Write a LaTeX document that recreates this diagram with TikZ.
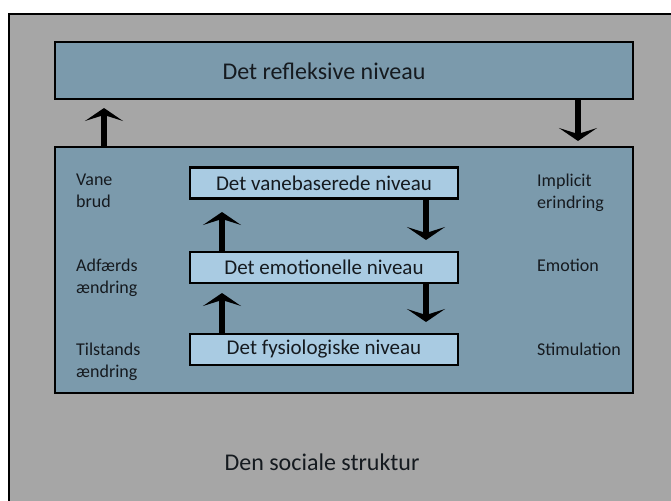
\documentclass[tikz,border=0pt]{standalone}
\usepackage{fontspec}
\setmainfont{Carlito}
\usetikzlibrary{arrows.meta}
\definecolor{bggray}{HTML}{A6A6A6}
\definecolor{boxblue}{HTML}{7B9AAC}
\definecolor{innerblue}{HTML}{A9CBE2}
\definecolor{textdark}{HTML}{151A1F}
\tikzset{
  levelbox/.style={draw=black, line width=2.5pt, fill=boxblue, inner sep=0pt},
  innerbox/.style={draw=black, line width=2.5pt, fill=innerblue, inner sep=0pt, minimum width=268pt, minimum height=31pt, text=textdark, font=\fontsize{21}{24}\selectfont},
  sidelabel/.style={anchor=base west, align=left, inner sep=0pt, text=textdark, font=\fontsize{18}{21.5}\selectfont},
  bigtext/.style={anchor=base, inner sep=0pt, text=textdark, font=\fontsize{24}{28}\selectfont},
  flow/.style={line width=5.5pt, -{Stealth[width=38pt,length=13pt,inset=6pt]}},
}
\begin{document}
\begin{tikzpicture}[x=1pt,y=-1pt]
\useasboundingbox (0,0) rectangle (671,500);
\fill[white] (0,0) rectangle (671,500);
\clip (0,0) rectangle (671,500);
\draw[fill=bggray, line width=2.5pt] (9,14) rectangle (690,520);
\node[levelbox, minimum width=578pt, minimum height=57pt] (refl) at (344,70.5) {};
\node[bigtext] (refltext) at (324,80) {Det refleksive niveau};
\node[levelbox, minimum width=578pt, minimum height=246pt] (main) at (344,270) {};
\node[innerbox] (vane) at (324,183) {Det vanebaserede niveau};
\node[innerbox] (emo) at (324,267.5) {Det emotionelle niveau};
\node[innerbox] (fys) at (324,349.5) {Det fysiologiske niveau};
% arrows between reflective level and main box
\coordinate (upA) at (104,108);
\coordinate (dnA) at (578,141);
\draw[flow] (main.north -| upA) -- (upA);
\draw[flow] (refl.south -| dnA) -- (dnA);
% inner arrows
\coordinate (u1) at (222,212);
\coordinate (u2) at (222,293);
\coordinate (d1) at (426,240);
\coordinate (d2) at (426,322);
\draw[flow] (emo.north -| u1) -- (u1);
\draw[flow] (fys.north -| u2) -- (u2);
\draw[flow] (vane.south -| d1) -- (d1);
\draw[flow] (emo.south -| d2) -- (d2);
% side labels (anchor = baseline of the last line)
\node[sidelabel] (l1) at (76,207) {Vane\\brud};
\node[sidelabel] (l2) at (76,293) {Adfærds\\ændring};
\node[sidelabel] (l3) at (76,377) {Tilstands\\ændring};
\node[sidelabel] (r1) at (537,208) {Implicit\\erindring};
\node[sidelabel] (r2) at (537,271) {Emotion};
\node[sidelabel] (r3) at (537,355) {Stimulation};
\node[bigtext] (soc) at (322,470) {Den sociale struktur};
\end{tikzpicture}
\end{document}
